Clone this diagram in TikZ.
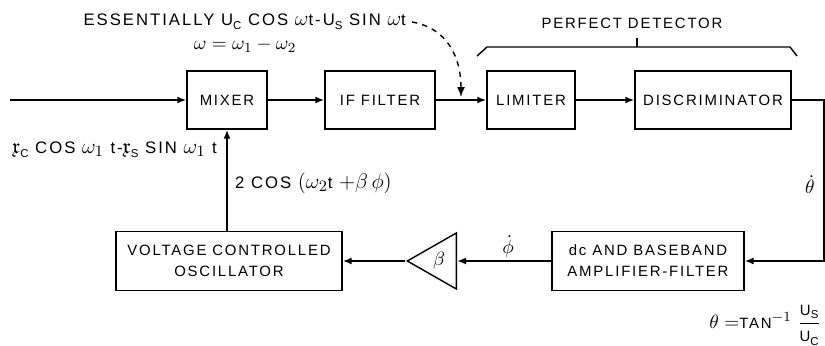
\documentclass[tikz,border=0pt]{standalone}
\usepackage{amsmath,amssymb}
\usepackage{fontspec}
\setmainfont{Liberation Sans}[LetterSpace=12]
\DeclareMathSizes{8.5}{11}{8}{6}
\DeclareMathSizes{9.5}{12}{9}{7}
\usetikzlibrary{arrows.meta,shapes.geometric,calc}

% 小号下标 (C, S)
\newcommand{\lsub}[1]{\raisebox{-0.5ex}{\fontsize{6.5}{7}\selectfont #1}}

\tikzset{
  blk/.style={draw, line width=0.8pt, minimum height=1.16cm, align=center, inner sep=2pt},
  sig/.style={line width=1.2pt, -{Latex[length=1.8mm,width=1.4mm]}},
  biglbl/.style={font=\fontsize{9.5}{12}\selectfont},
}

\begin{document}
\begin{tikzpicture}[x=0.02cm, y=-0.02cm, font=\fontsize{8.5}{12}\selectfont]
    % 坐标按像素给出，y 轴向下
    \useasboundingbox (0,0) rectangle (825,345);

    % 1. 上排方框 (混频器 -> 中频滤波 -> 限幅 -> 鉴频)
    \node[blk, minimum width=1.6cm]  (mixer) at (227,100) {MIXER};
    \node[blk, minimum width=2.2cm]  (iff)   at (380,100) {IF FILTER};
    \node[blk, minimum width=1.76cm] (lim)   at (531,100) {LIMITER};
    \node[blk, minimum width=3.12cm] (disc)  at (713,100) {DISCRIMINATOR};

    % 2. 下排方框与放大器三角形
    \node[blk, minimum width=3.84cm, minimum height=1.18cm] (dc) at (648,261)
        {dc AND BASEBAND\\AMPLIFIER-FILTER};
    \node[draw, line width=0.8pt, isosceles triangle, shape border rotate=180,
          isosceles triangle stretches, minimum width=1.12cm, minimum height=0.98cm,
          inner sep=0pt, anchor=lower side] (amp) at (457,261) {};
    \node (beta) at (439,261) {$\beta$};
    \node[blk, minimum width=4.52cm, minimum height=1.18cm] (vco) at (229,261)
        {VOLTAGE CONTROLLED\\OSCILLATOR};

    % 3. 信号连线
    \coordinate (in) at (10,100);
    \coordinate (turn) at (824,100);
    \draw[sig] (in) -- (mixer);
    \draw[sig] (mixer) -- (iff);
    \draw[sig] (iff) -- (lim);
    \draw[sig] (lim) -- (disc);
    \draw[sig] (disc.east) -- (turn) |- (dc.east);
    \draw[sig] (dc.west) -- (amp.lower side);
    \draw[sig] (amp.apex) -- (vco.east);
    \draw[sig] (vco.north -| mixer.south) -- (mixer.south);

    % 4. 文字说明
    \node[biglbl, anchor=east] (ess) at (412,22)
        {ESSENTIALLY U\lsub{C} COS $\omega$t-U\lsub{S} SIN $\omega$t};
    \node (omg) at (245,45) {$\omega=\omega_1-\omega_2$};
    \node (pd) at (632,23) {PERFECT DETECTOR};
    \node[biglbl, anchor=east] (xin) at (223,150)
        {$\mathfrak{x}$\lsub{C} COS $\omega_1$ t-$\mathfrak{x}$\lsub{S} SIN $\omega_1$ t};
    \node[biglbl, anchor=west] (lo) at (229,183) {2 COS $(\omega_2$t $+\beta\,\phi)$};
    \node (thd) at (810,185) {$\dot\theta$};
    \node (phd) at (508,246) {$\dot\phi$};
    \node[anchor=east] (tan) at (827,325)
        {$\theta=$TAN$^{-1}$ $\dfrac{\mbox{U\lsub{S}}}{\mbox{U\lsub{C}}}$};

    % 5. 虚线箭头指向中频输出
    \coordinate (tap) at ($(iff.east)!0.5!(lim.west)+(0,-3)$);
    \draw[dashed, line width=0.8pt, -{Latex[length=2mm,width=1.6mm]}]
        (ess.east) .. controls +(35,6) and +(0,-40) .. (tap);

    % 6. 完美检测器的括号
    \draw[line width=0.8pt] (477,56) -- (487,47) -- (790,47) -- (797,56);
    \draw[line width=0.8pt] (637,47) -- (637,38);

\end{tikzpicture}
\end{document}
